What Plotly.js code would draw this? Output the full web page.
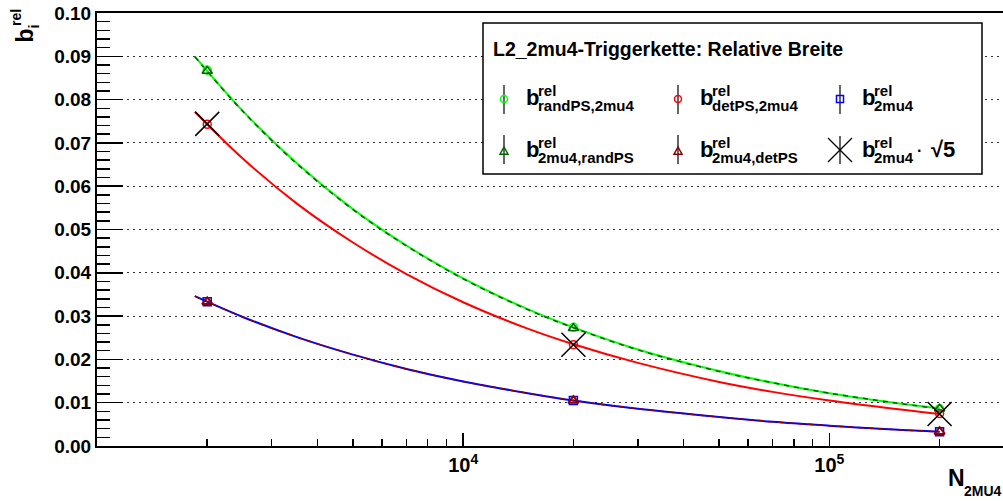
<!DOCTYPE html>
<html><head><meta charset="utf-8">
<script src="https://cdn.plot.ly/plotly-3.0.1.min.js"></script>
<style>html,body{margin:0;padding:0;background:#fff}</style>
</head><body>
<div id="chart" style="width:1003px;height:501px"></div>
<script>
// ---- data ----
const N = [2000, 20000, 200000];
const b_randPS_2mu4 = [0.0868, 0.0274, 0.0086];
const b_2mu4_randPS = [0.0866, 0.0272, 0.0086];
const b_detPS_2mu4  = [0.0743, 0.0234, 0.0075];
const b_2mu4_detPS  = [0.0333, 0.0105, 0.0033];
const b_2mu4        = [0.0333, 0.0105, 0.0033];
const b_2mu4_sqrt5  = [0.0744, 0.0234, 0.0074];

// fit curves
const fitN = [1850, 2500, 3500, 5000, 7000, 10000, 15000, 20000, 30000, 50000, 70000, 100000, 150000, 200000];
const fit_randPS_2mu4 = [0.0900, 0.0774, 0.0654, 0.0547, 0.0463, 0.0387, 0.0316, 0.0274, 0.0223, 0.0173, 0.0146, 0.0122, 0.0100, 0.0087];
const fit_2mu4_randPS = [0.0899, 0.0773, 0.0653, 0.0546, 0.0462, 0.0386, 0.0315, 0.0273, 0.0222, 0.0172, 0.0146, 0.0122, 0.0100, 0.0086];
const fit_detPS_2mu4  = [0.0772, 0.0664, 0.0561, 0.0470, 0.0397, 0.0332, 0.0271, 0.0235, 0.0192, 0.0148, 0.0125, 0.0105, 0.0086, 0.0074];
const fit_2mu4        = [0.0346, 0.0298, 0.0252, 0.0211, 0.0178, 0.0149, 0.0122, 0.0105, 0.0086, 0.0067, 0.0056, 0.0047, 0.0038, 0.0033];
const fit_2mu4_detPS  = [0.0346, 0.0298, 0.0252, 0.0211, 0.0178, 0.0149, 0.0122, 0.0105, 0.0086, 0.0067, 0.0056, 0.0047, 0.0038, 0.0033];

const xMajorTicks = [1e4, 1e5];
const xMajorText = ['10<sup>4</sup>', '10<sup>5</sup>'];
const xMinorTicks = [2000,3000,4000,5000,6000,7000,8000,9000,20000,30000,40000,50000,60000,70000,80000,90000,200000];

const legendTitle = 'L2_2mu4-Triggerkette: Relative Breite';
const legendSubs = ['randPS,2mu4', 'detPS,2mu4', '2mu4', '2mu4,randPS', '2mu4,detPS', '2mu4'];

// ---- colours ----
const GREEN = '#00ff00', DGREEN = '#006600', RED = '#ff0000', DRED = '#8b0000', BLUE = '#0000ff';
const FONT = 'Liberation Sans, Arial, Helvetica, sans-serif';

const traces = [
  {x: fitN, y: fit_randPS_2mu4, mode: 'lines', line: {color: GREEN, width: 2, shape: 'spline'}},
  {x: fitN, y: fit_2mu4_randPS, mode: 'lines', line: {color: DGREEN, width: 1.5, dash: '5px,5px', shape: 'spline'}},
  {x: fitN, y: fit_detPS_2mu4, mode: 'lines', line: {color: RED, width: 2, shape: 'spline'}},
  {x: fitN, y: fit_2mu4, mode: 'lines', line: {color: BLUE, width: 2, shape: 'spline'}},
  {x: fitN, y: fit_2mu4_detPS, mode: 'lines', line: {color: DRED, width: 1.5, dash: '5px,5px', shape: 'spline'}},
  {x: N, y: b_randPS_2mu4, mode: 'markers', marker: {symbol: 'circle-open', size: 8, color: GREEN, line: {width: 1.5}}},
  {x: N, y: b_2mu4_randPS, mode: 'markers', marker: {symbol: 'triangle-up-open', size: 9, color: DGREEN, line: {width: 1.5}}},
  {x: N, y: b_detPS_2mu4, mode: 'markers', marker: {symbol: 'circle-open', size: 8, color: RED, line: {width: 1.5}}},
  {x: N, y: b_2mu4, mode: 'markers', marker: {symbol: 'square-open', size: 8, color: BLUE, line: {width: 1.5}}},
  {x: N, y: b_2mu4_detPS, mode: 'markers', marker: {symbol: 'triangle-up-open', size: 9, color: DRED, line: {width: 2}}},
  {x: N, y: b_2mu4_sqrt5, mode: 'markers', marker: {symbol: 'x-thin-open', size: 24, color: '#000', line: {width: 1.5, color: '#000'}}}
];

// pixel -> paper helpers for the legend box
const L = 97, T = 13, PW = 906, PH = 433;
const px = x => (x - L) / PW;
const py = y => (T + PH - y) / PH;

const shapes = [];
const annotations = [];

// legend box
shapes.push({type: 'rect', xref: 'paper', yref: 'paper', x0: px(483), x1: px(982), y0: py(174), y1: py(23),
  fillcolor: '#fff', line: {color: '#000', width: 1.5}, layer: 'above'});
annotations.push({xref: 'paper', yref: 'paper', x: px(491), y: py(49), xanchor: 'left', yanchor: 'middle',
  text: legendTitle, showarrow: false, font: {family: FONT, size: 19.5, weight: 'bold', color: '#000'}});

const colBX = [525, 699, 861];
const colSubX = [537, 711, 873];
const rowBaseB = [104, 156];

function vline(x, y0, y1) {
  shapes.push({type: 'line', xref: 'paper', yref: 'paper', x0: px(x), x1: px(x), y0: py(y0), y1: py(y1),
    line: {color: '#000', width: 1.2}, layer: 'above'});
}
function circ(x, y, r, c) {
  shapes.push({type: 'circle', xref: 'paper', yref: 'paper', x0: px(x - r), x1: px(x + r), y0: py(y + r), y1: py(y - r),
    line: {color: c, width: 1.5}, fillcolor: 'rgba(0,0,0,0)', layer: 'above'});
}
function sq(x, y, r, c) {
  shapes.push({type: 'rect', xref: 'paper', yref: 'paper', x0: px(x - r), x1: px(x + r), y0: py(y + r), y1: py(y - r),
    line: {color: c, width: 1.5}, fillcolor: 'rgba(0,0,0,0)', layer: 'above'});
}
function tri(x, y, r, c) {
  const p = `M ${px(x - r)},${py(y + r * 0.8)} L ${px(x + r)},${py(y + r * 0.8)} L ${px(x)},${py(y - r)} Z`;
  shapes.push({type: 'path', xref: 'paper', yref: 'paper', path: p, line: {color: c, width: 1.5}, layer: 'above'});
}
function xline(x0, y0, x1, y1) {
  shapes.push({type: 'line', xref: 'paper', yref: 'paper', x0: px(x0), x1: px(x1), y0: py(y0), y1: py(y1),
    line: {color: '#000', width: 1.2}, layer: 'above'});
}

// row 1
vline(504, 85, 114); circ(504, 99, 3.5, GREEN);
vline(678, 85, 114); circ(678, 99, 3.5, RED);
vline(840, 85, 114); sq(840, 99, 3.5, BLUE);
// row 2
vline(504, 135, 164); tri(504, 151, 4, DGREEN);
vline(678, 135, 164); tri(678, 151, 4, DRED);
vline(840, 136, 164); xline(828, 138, 852, 162); xline(828, 162, 852, 138);

const bFont = {family: FONT, size: 22, weight: 'bold', color: '#000'};
const sFont = {family: FONT, size: 15, weight: 'bold', color: '#000'};
for (let r = 0; r < 2; r++) {
  for (let c = 0; c < 3; c++) {
    const yb = rowBaseB[r];
    annotations.push({xref: 'paper', yref: 'paper', x: px(colBX[c] - 1), y: py(yb - 7), xanchor: 'left', yanchor: 'middle',
      text: 'b', showarrow: false, font: bFont});
    annotations.push({xref: 'paper', yref: 'paper', x: px(colSubX[c] - 1), y: py(yb - 14), xanchor: 'left', yanchor: 'middle',
      text: 'rel', showarrow: false, font: sFont});
    annotations.push({xref: 'paper', yref: 'paper', x: px(colSubX[c] - 1), y: py(yb + 1), xanchor: 'left', yanchor: 'middle',
      text: legendSubs[r * 3 + c], showarrow: false, font: sFont});
  }
}
annotations.push({xref: 'paper', yref: 'paper', x: px(919), y: py(150), xanchor: 'center', yanchor: 'middle',
  text: '·', showarrow: false, font: {family: FONT, size: 16, weight: 'bold', color: '#000'}});
annotations.push({xref: 'paper', yref: 'paper', x: px(929), y: py(149), xanchor: 'left', yanchor: 'middle',
  text: '√5', showarrow: false, font: {family: FONT, size: 22, weight: 'bold', color: '#000'}});

// y axis title b_i^rel (rotated)
annotations.push({xref: 'paper', yref: 'paper', x: px(24), y: py(35.5), xanchor: 'center', yanchor: 'middle', textangle: -90,
  text: 'b', showarrow: false, font: {family: FONT, size: 23, weight: 'bold', color: '#000'}});
annotations.push({xref: 'paper', yref: 'paper', x: px(15.5), y: py(17.5), xanchor: 'center', yanchor: 'middle', textangle: -90,
  text: 'rel', showarrow: false, font: {family: FONT, size: 14, weight: 'bold', color: '#000'}});
annotations.push({xref: 'paper', yref: 'paper', x: px(34), y: py(26.5), xanchor: 'center', yanchor: 'middle', textangle: -90,
  text: 'i', showarrow: false, font: {family: FONT, size: 14, weight: 'bold', color: '#000'}});

// x axis title N_2MU4
annotations.push({xref: 'paper', yref: 'paper', x: px(946), y: py(478), xanchor: 'left', yanchor: 'middle',
  text: 'N', showarrow: false, font: {family: FONT, size: 23, weight: 'bold', color: '#000'}});
annotations.push({xref: 'paper', yref: 'paper', x: px(962), y: py(491), xanchor: 'left', yanchor: 'middle',
  text: '2MU4', showarrow: false, font: {family: FONT, size: 14, weight: 'bold', color: '#000'}});

const layout = {
  width: 1003, height: 501,
  margin: {l: 97, r: 0, t: 13, b: 55, pad: 0},
  paper_bgcolor: '#fff', plot_bgcolor: '#fff',
  showlegend: false,
  xaxis: {
    type: 'log', range: [Math.log10(1000), Math.log10(298000)],
    tickmode: 'array', tickvals: xMajorTicks, ticktext: xMajorText,
    ticks: 'inside', ticklen: 13, tickwidth: 1.5, tickcolor: '#000',
    showgrid: false, zeroline: false,
    showline: true, linecolor: '#000', linewidth: 2, mirror: true,
    tickfont: {family: FONT, size: 20, weight: 'bold', color: '#000'},
    minor: {tickmode: 'array', tickvals: xMinorTicks, ticks: 'inside', ticklen: 7, tickwidth: 1.5, tickcolor: '#000', showgrid: false}
  },
  yaxis: {
    range: [0, 0.1], dtick: 0.01, tick0: 0, tickformat: '.2f',
    ticks: 'inside', ticklen: 26, tickwidth: 1.5, tickcolor: '#000',
    showgrid: true, gridcolor: '#333', gridwidth: 1, griddash: '2px,4px',
    zeroline: false,
    showline: true, linecolor: '#000', linewidth: 2, mirror: true,
    tickfont: {family: FONT, size: 19, weight: 'bold', color: '#000'},
    minor: {dtick: 0.002, tick0: 0, ticks: 'inside', ticklen: 13, tickwidth: 1.5, tickcolor: '#000', showgrid: false}
  },
  shapes: shapes,
  annotations: annotations
};

Plotly.newPlot('chart', traces, layout, {displayModeBar: false, staticPlot: true});
</script>
</body></html>
